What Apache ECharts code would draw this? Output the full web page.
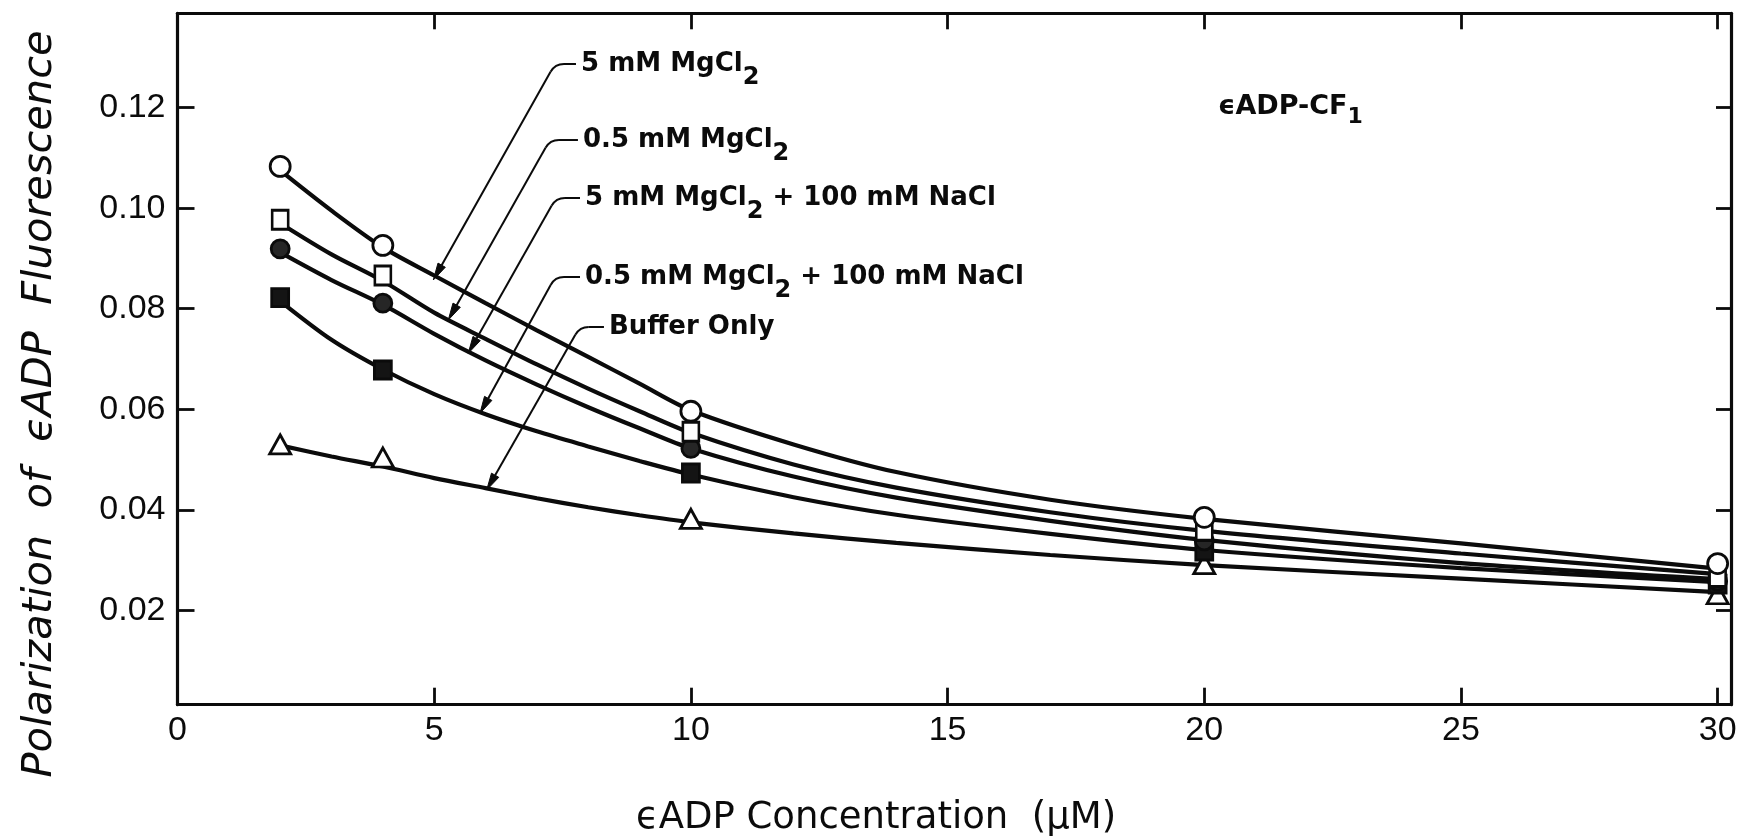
<!DOCTYPE html>
<html>
<head>
<meta charset="utf-8">
<script src="https://cdn.jsdelivr.net/npm/echarts@6/dist/echarts.min.js"></script>
<style>
html,body{margin:0;padding:0;background:#ffffff;}
#chart{width:1740px;height:840px;}
</style>
</head>
<body>
<div id="chart"></div>
<script>
// ---------- data ----------
const X_POINTS = [2, 4, 10, 20, 30];                 // eADP concentration (uM) of measured points
const MG5      = [0.1083, 0.0926, 0.0596, 0.0385, 0.0293];   // 5 mM MgCl2 (open circle)
const MG05     = [0.0977, 0.0866, 0.0555, 0.0358, 0.0266];   // 0.5 mM MgCl2 (open square)
const MG5_NA   = [0.0919, 0.0811, 0.0522, 0.0338, 0.0258];   // 5 mM MgCl2 + 100 mM NaCl (dark circle)
const MG05_NA  = [0.0822, 0.0678, 0.0473, 0.0318, 0.0252];   // 0.5 mM MgCl2 + 100 mM NaCl (dark square)
const BUFFER   = [0.0530, 0.0504, 0.0382, 0.0292, 0.0232];   // Buffer only (open triangle)

// hand-drawn fitted curves, read along x
const FIT_X        = [2, 3, 4, 5, 6, 7, 8, 9, 10, 12, 14, 17, 20, 25, 30];
const FIT_MG5      = [0.1075, 0.0995, 0.0922, 0.0866, 0.0811, 0.0757, 0.0704, 0.0651, 0.0598, 0.0530, 0.0475, 0.0420, 0.0382, 0.0333, 0.0283];
const FIT_MG05     = [0.0970, 0.0908, 0.0855, 0.0792, 0.0740, 0.0689, 0.0641, 0.0596, 0.0553, 0.0490, 0.0444, 0.0395, 0.0358, 0.0313, 0.0272];
const FIT_MG5_NA   = [0.0912, 0.0857, 0.0808, 0.0750, 0.0697, 0.0649, 0.0604, 0.0562, 0.0522, 0.0466, 0.0424, 0.0378, 0.0340, 0.0294, 0.0262];
const FIT_MG05_NA  = [0.0815, 0.0738, 0.0679, 0.0630, 0.0590, 0.0556, 0.0526, 0.0497, 0.0470, 0.0425, 0.0390, 0.0352, 0.0320, 0.0284, 0.0256];
const FIT_BUFFER   = [0.0528, 0.0506, 0.0486, 0.0463, 0.0443, 0.0423, 0.0405, 0.0389, 0.0375, 0.0353, 0.0334, 0.0310, 0.0290, 0.0263, 0.0236];

const X_TICKS = [0, 5, 10, 15, 20, 25, 30];
const X_TOP_TICKS = [5, 10, 15, 20, 25, 30];
const Y_TICKS = [0.02, 0.04, 0.06, 0.08, 0.10, 0.12];

const SERIES_NAMES = ['5 mM MgCl2', '0.5 mM MgCl2', '5 mM MgCl2 + 100 mM NaCl', '0.5 mM MgCl2 + 100 mM NaCl', 'Buffer Only'];

// annotation leaders (data coordinates)
const ANNOTATIONS = [
  { tip: [4.983, 0.08571], elbow: [7.353, 0.12867], stubEnd: 7.762, parts: [['5 mM MgCl', 'm'], ['2', 's']] },
  { tip: [5.275, 0.07775], elbow: [7.255, 0.11355], stubEnd: 7.800, parts: [['0.5 mM MgCl', 'm'], ['2', 's']] },
  { tip: [5.664, 0.07112], elbow: [7.372, 0.10202], stubEnd: 7.840, parts: [['5 mM MgCl', 'm'], ['2', 's'], [' + 100 mM NaCl', 'm']] },
  { tip: [5.892, 0.05919], elbow: [7.353, 0.08630], stubEnd: 7.840, parts: [['0.5 mM MgCl', 'm'], ['2', 's'], [' + 100 mM NaCl', 'm']] },
  { tip: [6.023, 0.04393], elbow: [7.836, 0.07636], stubEnd: 8.307, parts: [['Buffer Only', 'm']] }
];

// ---------- styling ----------
const INK = '#0b0b0b';
const X_MIN = 0, X_MAX = 30.26;
const Y_MIN = 0.00122, Y_MAX = 0.13876;
const TICK_FONT = "'Liberation Sans', Arial, sans-serif";
const TEXT_FONT = "'DejaVu Sans', 'Liberation Sans', sans-serif";

const chart = echarts.init(document.getElementById('chart'), null, { renderer: 'canvas' });

function pts(xs, ys) { return xs.map((x, i) => [x, ys[i]]); }

const fits = [FIT_MG5, FIT_MG05, FIT_MG5_NA, FIT_MG05_NA, FIT_BUFFER];
const marks = [MG5, MG05, MG5_NA, MG05_NA, BUFFER];
const markerStyles = [
  { symbol: 'circle', size: 20, fill: '#ffffff' },
  { symbol: 'rect', size: [16, 19], fill: '#ffffff' },
  { symbol: 'circle', size: 18, fill: '#262626' },
  { symbol: 'rect', size: [17, 18], fill: '#141414' },
  { symbol: 'triangle', size: [21, 19], fill: '#ffffff' }
];

const series = [];
fits.forEach((f, i) => {
  series.push({
    name: SERIES_NAMES[i] + ' fit',
    type: 'line',
    data: pts(FIT_X, f),
    smooth: 0.3,
    symbol: 'none',
    showSymbol: false,
    lineStyle: { color: INK, width: 4.2 },
    z: 2,
    silent: true
  });
});
// draw bottom series first so upper markers are on top
[4, 3, 2, 1, 0].forEach(i => {
  const ms = markerStyles[i];
  series.push({
    name: SERIES_NAMES[i],
    type: 'scatter',
    data: pts(X_POINTS, marks[i]),
    symbol: ms.symbol,
    symbolSize: ms.size,
    itemStyle: { color: ms.fill, borderColor: INK, borderWidth: 2.8, opacity: 1 },
    z: 3 + (4 - i) * 0.1,
    silent: true
  });
});

const richStyles = {
  m: { fontFamily: TEXT_FONT, fontWeight: 'bold', fontSize: 26, fill: INK },
  s: { fontFamily: TEXT_FONT, fontWeight: 'bold', fontSize: 24, fill: INK, padding: [28, 0, 0, 0] }
};

series.push({
  type: 'custom',
  data: ANNOTATIONS.map((a, i) => [a.tip[0], a.tip[1], i]),
  z: 5,
  silent: true,
  renderItem: function (params, api) {
    const a = ANNOTATIONS[params.dataIndex];
    const tip = api.coord(a.tip);
    const elbow = api.coord(a.elbow);
    const stub = api.coord([a.stubEnd, a.elbow[1]]);
    const dx = tip[0] - elbow[0], dy = tip[1] - elbow[1];
    const len = Math.sqrt(dx * dx + dy * dy);
    const ux = dx / len, uy = dy / len;
    const r = 9;
    const p1 = [elbow[0] + ux * r, elbow[1] + uy * r];
    const p2 = [elbow[0] + r, elbow[1]];
    const ah = 17, aw = 4.2;
    const base = [tip[0] - ux * ah, tip[1] - uy * ah];
    const nx = -uy, ny = ux;
    const lineStyle = { stroke: INK, lineWidth: 2, fill: null };
    const text = a.parts.map(p => '{' + p[1] + '|' + p[0] + '}').join('');
    return {
      type: 'group',
      children: [
        { type: 'polyline', shape: { points: [base, p1] }, style: lineStyle },
        { type: 'bezierCurve', shape: { x1: p1[0], y1: p1[1], x2: p2[0], y2: p2[1], cpx1: elbow[0], cpy1: elbow[1] }, style: lineStyle },
        { type: 'polyline', shape: { points: [p2, stub] }, style: lineStyle },
        { type: 'polygon', shape: { points: [tip, [base[0] + nx * aw, base[1] + ny * aw], [base[0] - nx * aw, base[1] - ny * aw]] }, style: { fill: INK, stroke: INK, lineWidth: 1 } },
        { type: 'text', x: stub[0] + 5, y: stub[1], style: { text: text, rich: richStyles, align: 'left', verticalAlign: 'middle', fill: INK } }
      ]
    };
  }
});

const axisLineStyle = { color: INK, width: 3.2 };
const tickStyle = { color: INK, width: 2.8 };

const option = {
  animation: false,
  backgroundColor: '#ffffff',
  grid: { left: 177.5, right: 9, top: 13.3, bottom: 135.3, containLabel: false, outerBoundsMode: 'none' },
  xAxis: [
    {
      type: 'value', min: X_MIN, max: X_MAX, position: 'bottom',
      axisLine: { show: true, onZero: false, lineStyle: axisLineStyle },
      axisTick: { show: true, inside: true, length: 17, lineStyle: tickStyle, customValues: X_TICKS },
      axisLabel: { show: true, customValues: X_TICKS, margin: 9, color: INK, fontSize: 34, fontFamily: TICK_FONT },
      splitLine: { show: false }
    },
    {
      type: 'value', min: X_MIN, max: X_MAX, position: 'top',
      axisLine: { show: true, onZero: false, lineStyle: axisLineStyle },
      axisTick: { show: true, inside: true, length: 16, lineStyle: tickStyle, customValues: X_TOP_TICKS },
      axisLabel: { show: false },
      splitLine: { show: false }
    }
  ],
  yAxis: [
    {
      type: 'value', min: Y_MIN, max: Y_MAX, position: 'left',
      axisLine: { show: true, onZero: false, lineStyle: axisLineStyle },
      axisTick: { show: true, inside: true, length: 17, lineStyle: tickStyle, customValues: Y_TICKS },
      axisLabel: { show: true, customValues: Y_TICKS, margin: 12, color: INK, fontSize: 34, fontFamily: TICK_FONT,
        formatter: v => v.toFixed(2) },
      splitLine: { show: false }
    },
    {
      type: 'value', min: Y_MIN, max: Y_MAX, position: 'right',
      axisLine: { show: true, onZero: false, lineStyle: axisLineStyle },
      axisTick: { show: true, inside: true, length: 15, lineStyle: tickStyle, customValues: Y_TICKS },
      axisLabel: { show: false },
      splitLine: { show: false }
    }
  ],
  graphic: [
    {
      type: 'text', x: 40, y: 404, rotation: Math.PI / 2, silent: true,
      style: { text: 'Polarization  of  \u03F5ADP  Fluorescence', fontFamily: TEXT_FONT, fontStyle: 'italic',
        fontSize: 41.5, fill: INK, align: 'center', verticalAlign: 'middle' }
    },
    {
      type: 'text', x: 876, y: 818, silent: true,
      style: { text: '\u03F5ADP Concentration  (\u03BCM)', fontFamily: TEXT_FONT, fontSize: 37, fill: INK,
        align: 'center', verticalAlign: 'middle' }
    },
    {
      type: 'text', x: 1218, y: 107, silent: true,
      style: {
        text: '{m|\u03F5ADP-CF}{s|1}', align: 'left', verticalAlign: 'middle', fill: INK,
        rich: {
          m: { fontFamily: TEXT_FONT, fontWeight: 'bold', fontSize: 27, fill: INK },
          s: { fontFamily: TEXT_FONT, fontWeight: 'bold', fontSize: 22, fill: INK, padding: [20, 0, 0, 0] }
        }
      }
    }
  ],
  series: series
};

chart.setOption(option);
</script>
</body>
</html>
